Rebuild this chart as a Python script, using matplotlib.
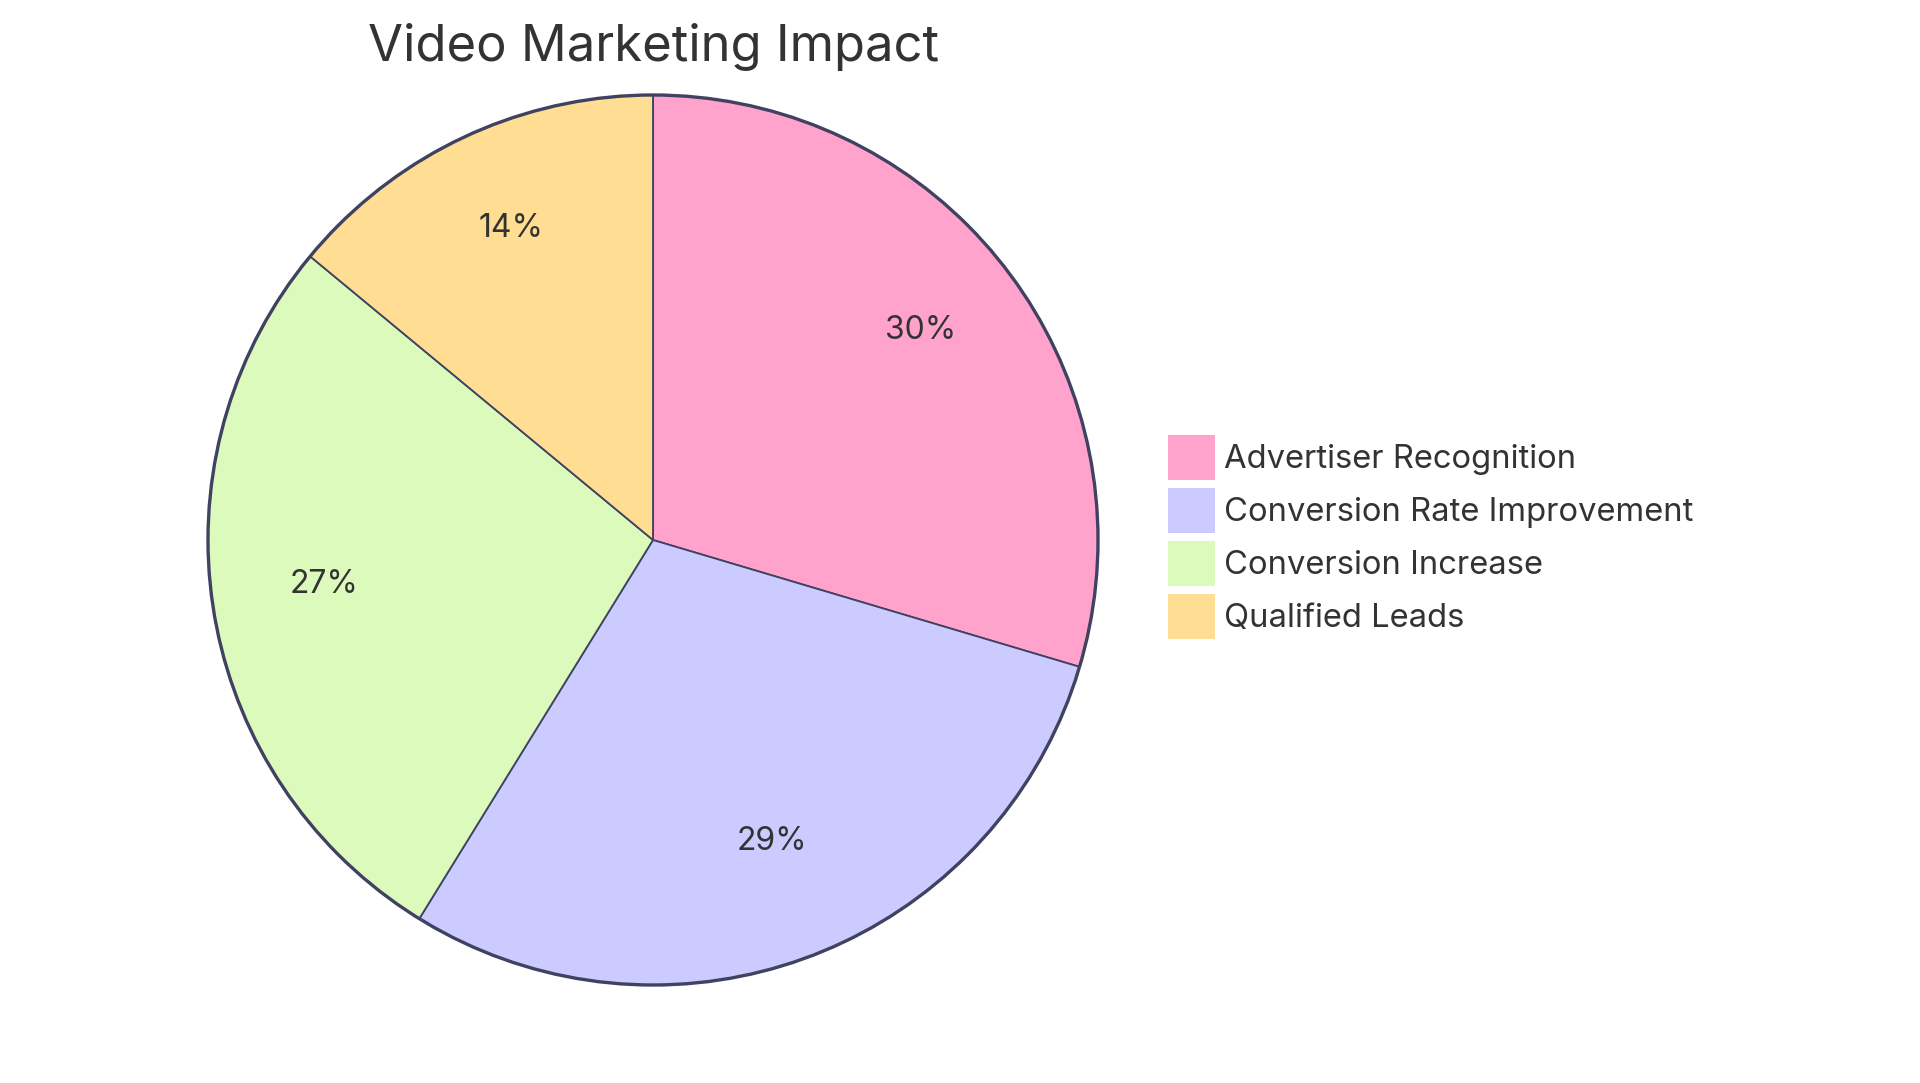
import matplotlib
matplotlib.use("Agg")
import matplotlib.pyplot as plt
from matplotlib.patches import Circle

plt.rcParams['font.family'] = ['Inter', 'DejaVu Sans']

title = "Video Marketing Impact"
categories = ["Advertiser Recognition", "Conversion Rate Improvement",
              "Conversion Increase", "Qualified Leads"]
values = [74, 73, 68, 35]
colors = ["#FFA3CC", "#CBCBFF", "#DCFABC", "#FFDE94"]
edge = "#3F4260"
text_color = "#333333"

W, H = 1920, 1083
fig = plt.figure(figsize=(W / 100, H / 100), dpi=100)
ax = fig.add_axes([0, 0, 1, 1])

cx, cy, r = 653, H - 540, 445
wedges, texts, autotexts = ax.pie(
    values, colors=colors, startangle=90, counterclock=False,
    center=(cx, cy), radius=r, autopct='%1.0f%%', pctdistance=0.75,
    wedgeprops=dict(edgecolor=edge, linewidth=1.3),
    textprops=dict(fontsize=23, color=text_color), frame=True)
ax.set_xlim(0, W)
ax.set_ylim(0, H)
ax.set_aspect('equal')
ax.axis('off')
for t in autotexts:
    x, y = t.get_position()
    t.set_position((x, y + 10))
ax.add_patch(Circle((cx, cy), r, fill=False, edgecolor=edge, linewidth=2.4, zorder=5))

ax.text(cx, H - 61, title, ha='center', va='baseline', fontsize=36.5, color=text_color)

leg = ax.legend(wedges, categories, loc='center left',
                bbox_to_anchor=(1168 / W, 1 - 537 / H), bbox_transform=fig.transFigure,
                frameon=False, fontsize=23.6, handlelength=1.42, handleheight=1.72,
                handletextpad=0.3, labelspacing=0.25, borderpad=0, borderaxespad=0)
for t in leg.get_texts():
    t.set_color(text_color)
for h in leg.legend_handles:
    h.set_edgecolor('none')

fig.savefig("out.png", dpi=100)
